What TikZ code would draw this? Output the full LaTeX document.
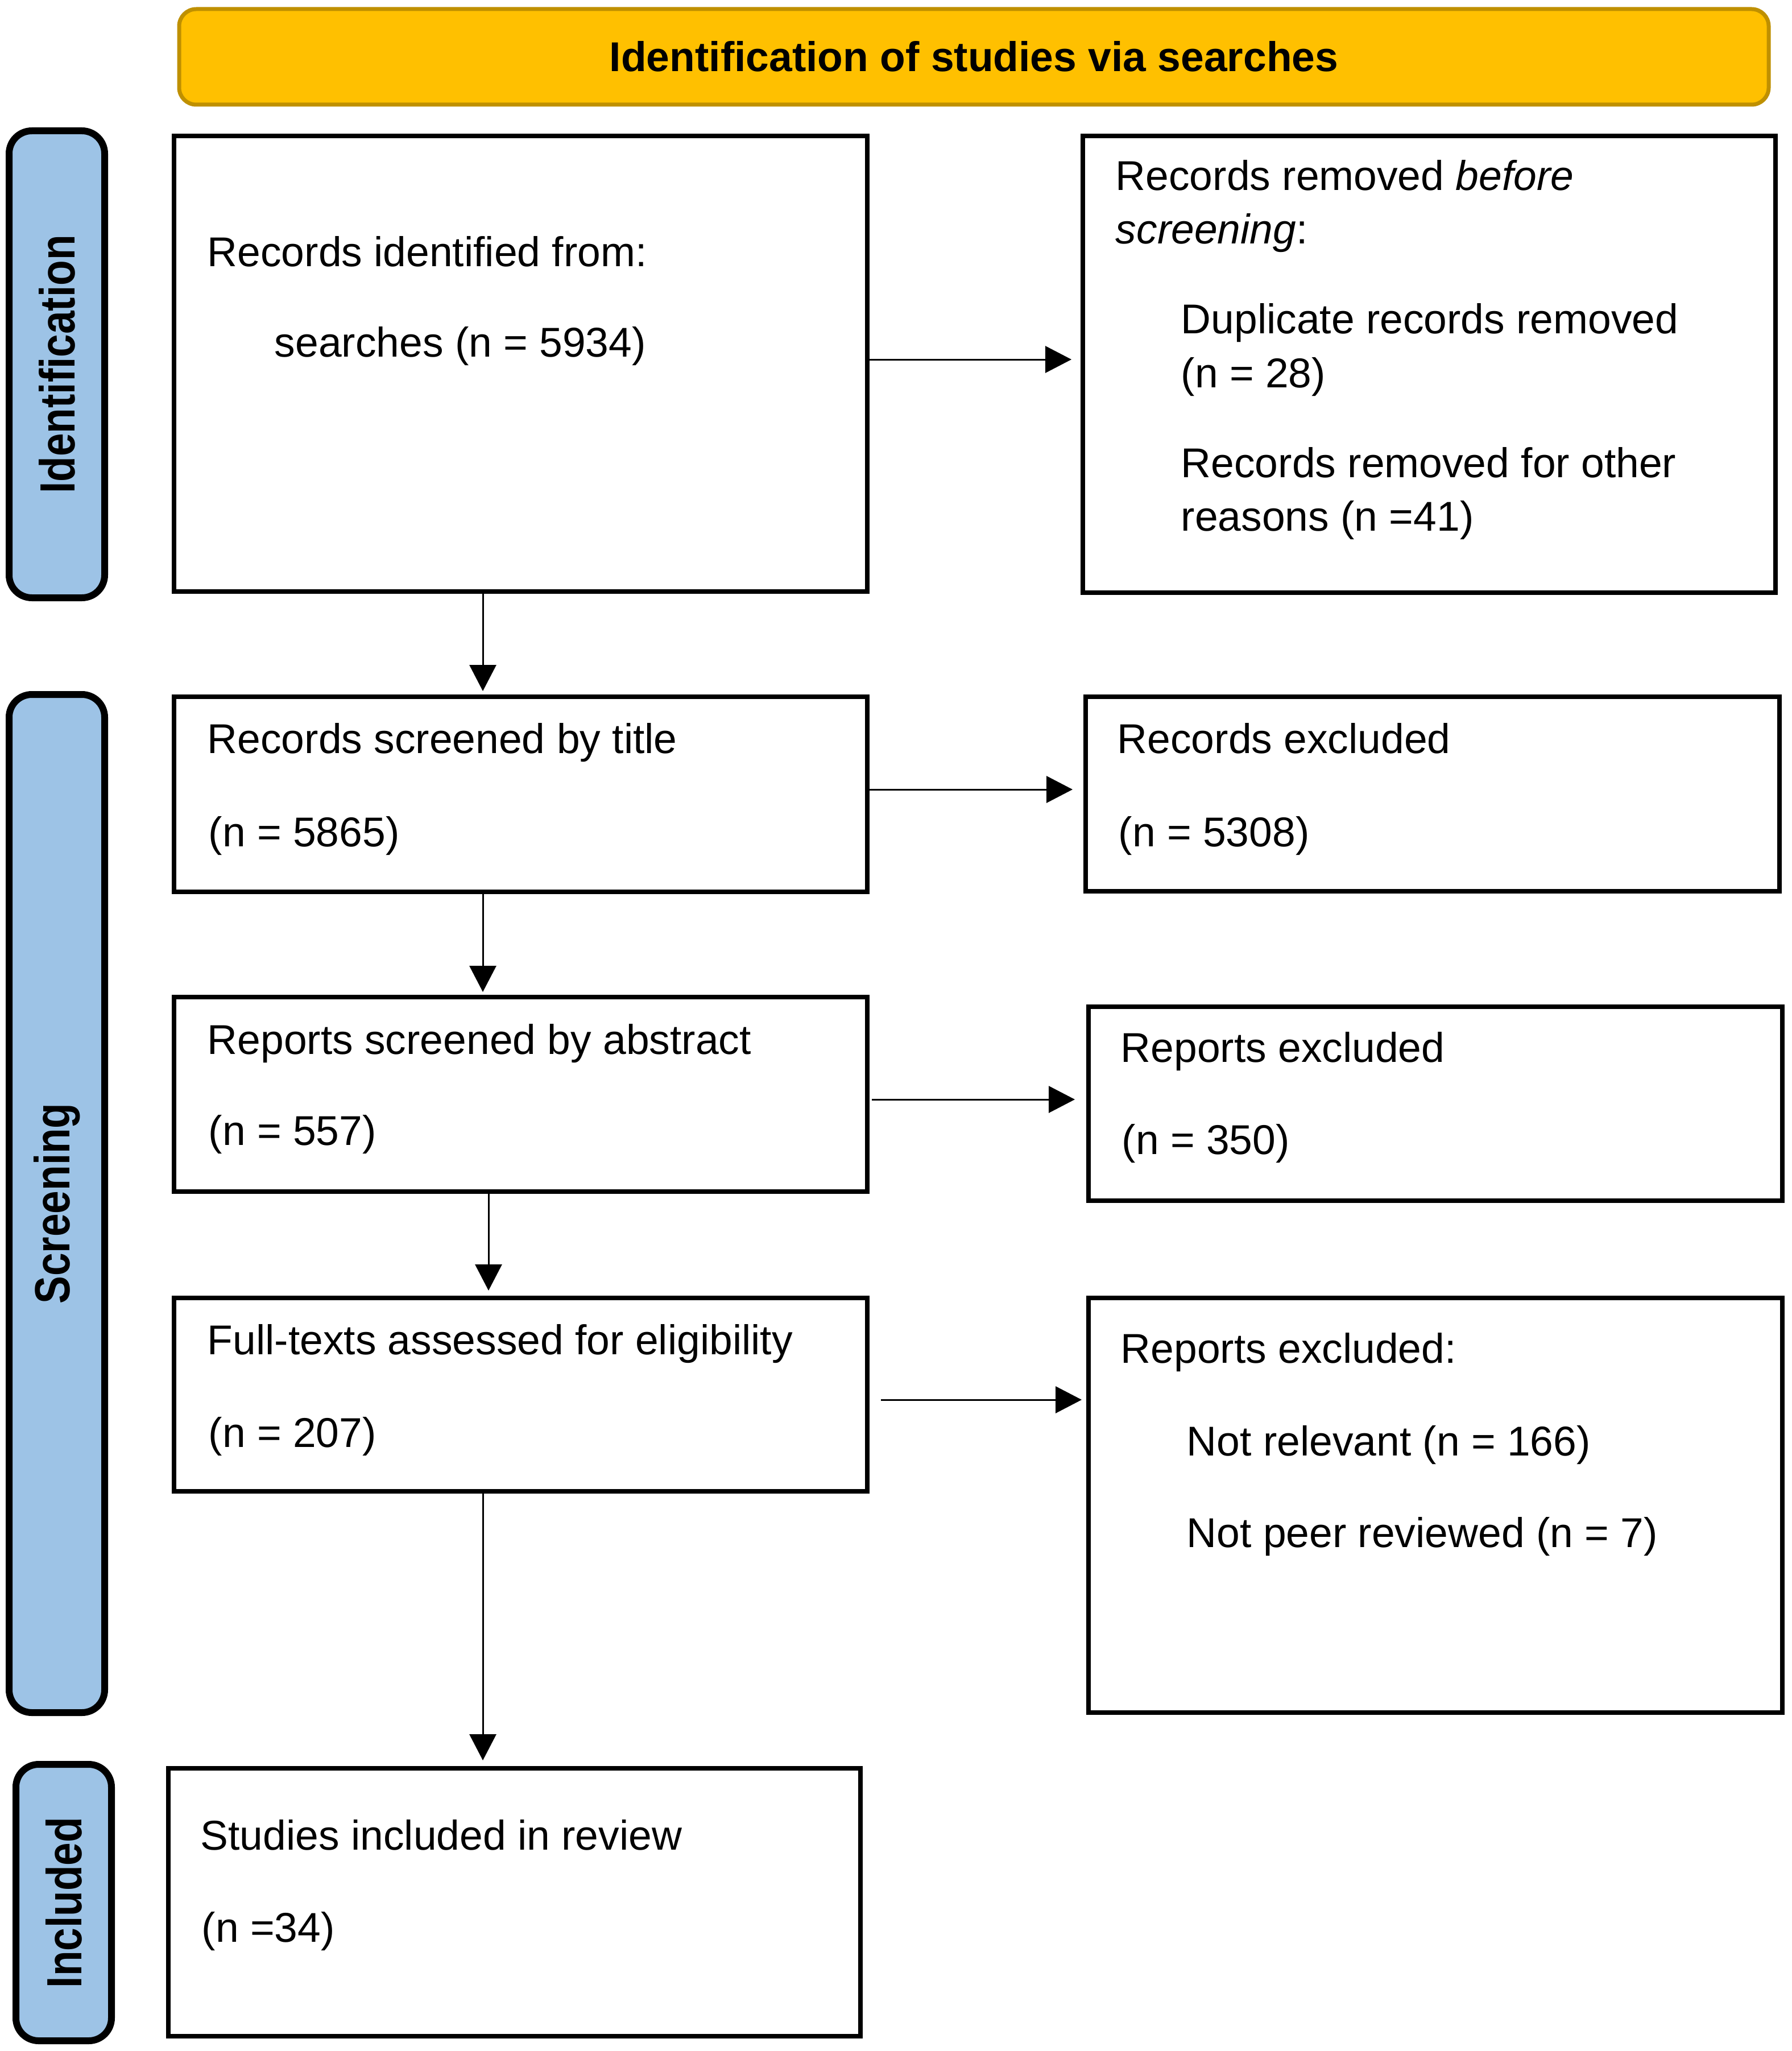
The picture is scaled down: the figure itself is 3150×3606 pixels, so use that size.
\documentclass[tikz,border=0pt]{standalone}
\usepackage{graphicx}
\usepackage{fontspec}
\setmainfont{Liberation Sans}
\usetikzlibrary{arrows.meta,fit}
\definecolor{bannerfill}{HTML}{FFC000}
\definecolor{bannerline}{HTML}{BF9000}
\definecolor{sidefill}{HTML}{9DC3E6}
\begin{document}
\begin{tikzpicture}[x=0.25pt,y=-0.25pt,
  box/.style={draw=black, line width=2pt, inner sep=0pt},
  side/.style={draw=black, line width=3pt, fill=sidefill, rounded corners=10pt, inner sep=0pt},
  banner/.style={draw=bannerline, line width=1.75pt, fill=bannerfill, rounded corners=7.5pt, inner sep=0pt},
  titletxt/.style={inner sep=0pt, anchor=base, font=\fontsize{18.3}{22}\selectfont\bfseries},
  txt/.style={inner sep=0pt, anchor=base west, font=\fontsize{18.3}{22}\selectfont},
  sidelbl/.style={inner sep=0pt, rotate=90, font=\fontsize{21.75}{26}\selectfont\bfseries},
  arr/.style={line width=0.75pt, -{Triangle[length=11.5pt,width=11.75pt]}},
]
\fill[white] (0,0) rectangle (3150,3606);
\useasboundingbox (0,0) rectangle (3150,3606);

% banner
\node[banner, fit={(315,16)(3110,184)}] (ban) {};
\node[titletxt] (ttl) at (ban.center |- 0,126) {Identification of studies via searches};

% side boxes
\node[side, fit={(16,230)(184,1051)}] (sid) {};
\node[side, fit={(16,1221)(184,3011)}] (sscr) {};
\node[side, fit={(28,3102)(196,3588)}] (sinc) {};
\node[sidelbl] (lid) at (sid.center) {\scalebox{0.84}[1]{Identification}};
\node[sidelbl] (lscr) at (sscr.center) {\scalebox{0.84}[1]{Screening}};
\node[sidelbl] (linc) at (sinc.center) {\scalebox{0.84}[1]{Included}};

% boxes
\node[box, fit={(306,239)(1525,1040)}] (b1) {};
\node[box, fit={(1904,239)(3122,1042)}] (b2) {};
\node[box, fit={(306,1225)(1525,1568)}] (b3) {};
\node[box, fit={(1909,1225)(3129,1567)}] (b4) {};
\node[box, fit={(306,1753)(1525,2095)}] (b5) {};
\node[box, fit={(1914,1770)(3134,2111)}] (b6) {};
\node[box, fit={(306,2282)(1525,2622)}] (b7) {};
\node[box, fit={(1914,2282)(3134,3011)}] (b8) {};
\node[box, fit={(296,3109)(1513,3580)}] (b9) {};

% texts
\node[txt] (t1a) at (364,469) {Records identified from:};
\node[txt] (t1b) at (482,628) {searches (n = 5934)};

\node[txt] (t2a) at (1961,335) {Records removed \textit{before}};
\node[txt] (t2b) at (1961,429) {\textit{screening}:};
\node[txt] (t2c) at (2076,586) {Duplicate records removed};
\node[txt] (t2d) at (2076,681) {(n = 28)};
\node[txt] (t2e) at (2076,839) {Records removed for other};
\node[txt] (t2f) at (2076,933) {reasons (n =41)};

\node[txt] (t3a) at (364,1324) {Records screened by title};
\node[txt] (t3b) at (366,1488) {(n = 5865)};

\node[txt] (t4a) at (1964,1324) {Records excluded};
\node[txt] (t4b) at (1966,1488) {(n = 5308)};

\node[txt] (t5a) at (364,1853) {Reports screened by abstract};
\node[txt] (t5b) at (366,2013) {(n = 557)};

\node[txt] (t6a) at (1970,1867) {Reports excluded};
\node[txt] (t6b) at (1972,2029) {(n = 350)};

\node[txt] (t7a) at (364,2381) {Full-texts assessed for eligibility};
\node[txt] (t7b) at (366,2544) {(n = 207)};

\node[txt] (t8a) at (1970,2396) {Reports excluded:};
\node[txt] (t8b) at (2086,2559) {Not relevant (n = 166)};
\node[txt] (t8c) at (2086,2720) {Not peer reviewed (n = 7)};

\node[txt] (t9a) at (352,3252) {Studies included in review};
\node[txt] (t9b) at (354,3414) {(n =34)};

% arrows
\draw[arr, shorten >=4pt] (b1.east |- 0,632) -- (b2.west |- 0,632);
\draw[arr, shorten >=4.75pt] (b3.east |- 0,1388) -- (b4.west |- 0,1388);
\draw[arr, shorten <=1pt, shorten >=5pt] (b5.east |- 0,1933) -- (b6.west |- 0,1933);
\draw[arr, shorten <=5pt, shorten >=2pt] (b7.east |- 0,2461) -- (b8.west |- 0,2461);

\draw[arr, shorten >=1.5pt] (b1.south -| 849,0) -- (b3.north -| 849,0);
\draw[arr, shorten >=1.25pt] (b3.south -| 849,0) -- (b5.north -| 849,0);
\draw[arr, shorten >=2.25pt] (b5.south -| 859,0) -- (b7.north -| 859,0);
\draw[arr, shorten >=2.5pt] (b7.south -| 849,0) -- (b9.north -| 849,0);
\end{tikzpicture}
\end{document}
